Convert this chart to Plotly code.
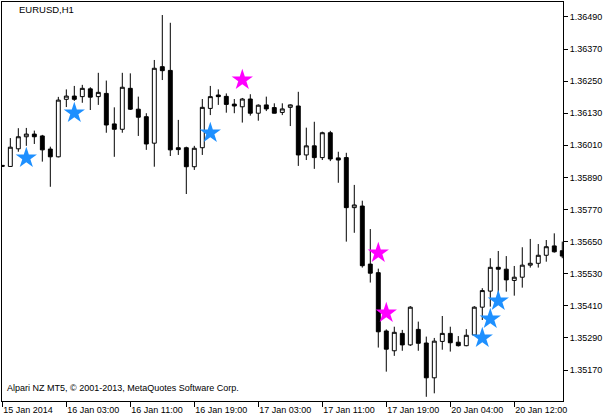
import plotly.graph_objects as go

# ---- data (EURUSD H1) ----
bar_index = list(range(71))
open_ = [1.35935, 1.35931, 1.35997, 1.36042, 1.36052, 1.36045, 1.35996, 1.35967, 1.36182, 1.36194,
         1.36192, 1.36221, 1.36192, 1.36204, 1.36090, 1.36070, 1.36223, 1.36145, 1.36117, 1.36018,
         1.36304, 1.36290, 1.36001, 1.36001, 1.35930, 1.36001, 1.36148, 1.36198, 1.36193, 1.36164,
         1.36154, 1.36183, 1.36130, 1.36161, 1.36151, 1.36133, 1.36152, 1.36157, 1.35974, 1.36008,
         1.35964, 1.36057, 1.35963, 1.35964, 1.35777, 1.35783, 1.35566, 1.35534, 1.35316, 1.35242,
         1.35307, 1.35264, 1.35322, 1.35271, 1.35141, 1.35277, 1.35307, 1.35274, 1.35261, 1.35301,
         1.35405, 1.35465, 1.35554, 1.35547, 1.35505, 1.35517, 1.35562, 1.35569, 1.35599, 1.35634,
         1.35616]
high = [1.35936, 1.36037, 1.36074, 1.36075, 1.36065, 1.36049, 1.36005, 1.36191, 1.36219, 1.36232,
        1.36236, 1.36227, 1.36281, 1.36252, 1.36152, 1.36281, 1.36279, 1.36192, 1.36130, 1.36329,
        1.36497, 1.36468, 1.36105, 1.36005, 1.36008, 1.36183, 1.36232, 1.36219, 1.36204, 1.36183,
        1.36187, 1.36201, 1.36163, 1.36192, 1.36167, 1.36167, 1.36163, 1.36210, 1.36076, 1.36098,
        1.36061, 1.36064, 1.35986, 1.35982, 1.35862, 1.35803, 1.35697, 1.35549, 1.35322, 1.35332,
        1.35320, 1.35409, 1.35351, 1.35295, 1.35290, 1.35372, 1.35332, 1.35297, 1.35323, 1.35409,
        1.35476, 1.35588, 1.35615, 1.35596, 1.35559, 1.35629, 1.35660, 1.35641, 1.35656, 1.35681,
        1.35650]
low = [1.35929, 1.35930, 1.35986, 1.36008, 1.36015, 1.35949, 1.35855, 1.35965, 1.36153, 1.36176,
       1.36169, 1.36142, 1.36161, 1.36057, 1.35967, 1.36057, 1.36142, 1.36045, 1.35993, 1.35930,
       1.36254, 1.35970, 1.35974, 1.35828, 1.35918, 1.35974, 1.36123, 1.36161, 1.36132, 1.36130,
       1.36095, 1.36121, 1.36102, 1.36138, 1.36129, 1.36123, 1.36082, 1.35933, 1.35955, 1.35922,
       1.35955, 1.35951, 1.35870, 1.35650, 1.35683, 1.35553, 1.35497, 1.35254, 1.35164, 1.35223,
       1.35242, 1.35260, 1.35242, 1.35070, 1.35083, 1.35246, 1.35239, 1.35258, 1.35259, 1.35300,
       1.35357, 1.35407, 1.35432, 1.35463, 1.35448, 1.35478, 1.35553, 1.35553, 1.35575, 1.35609,
       1.35588]
close = [1.35932, 1.36003, 1.36042, 1.36052, 1.36042, 1.35993, 1.35967, 1.36179, 1.36194, 1.36182,
         1.36223, 1.36190, 1.36208, 1.36086, 1.36070, 1.36227, 1.36145, 1.36115, 1.36015, 1.36298,
         1.36289, 1.35993, 1.35994, 1.35930, 1.35999, 1.36152, 1.36192, 1.36192, 1.36163, 1.36157,
         1.36183, 1.36130, 1.36160, 1.36146, 1.36130, 1.36146, 1.36161, 1.35974, 1.36008, 1.35964,
         1.36057, 1.35959, 1.35955, 1.35777, 1.35787, 1.35560, 1.35532, 1.35313, 1.35248, 1.35311,
         1.35264, 1.35405, 1.35270, 1.35141, 1.35278, 1.35307, 1.35272, 1.35261, 1.35300, 1.35405,
         1.35467, 1.35554, 1.35547, 1.35507, 1.35517, 1.35562, 1.35569, 1.35599, 1.35631, 1.35612,
         1.35596]

buy_x = [3, 9, 26, 60, 61, 62]
buy_y = [1.35963, 1.36131, 1.36056, 1.35290, 1.35361, 1.35428]
sell_x = [30, 47, 48]
sell_y = [1.36254, 1.35608, 1.35383]

x_tick_pos = [0, 8, 16, 24, 32, 40, 48, 56, 64]
x_tick_text = ["15 Jan 2014", "16 Jan 03:00", "16 Jan 11:00", "16 Jan 19:00", "17 Jan 03:00",
               "17 Jan 11:00", "17 Jan 19:00", "20 Jan 04:00", "20 Jan 12:00"]
y_tick_text = ["1.35170", "1.35290", "1.35410", "1.35530", "1.35650", "1.35770",
               "1.35890", "1.36010", "1.36130", "1.36250", "1.36370", "1.36490"]
y_tick_vals = [float(t) for t in y_tick_text]

FONT = "Liberation Sans, Arial, sans-serif"

fig = go.Figure()
fig.add_trace(go.Candlestick(
    x=bar_index, open=open_, high=high, low=low, close=close,
    increasing=dict(line=dict(color="black", width=1), fillcolor="white"),
    decreasing=dict(line=dict(color="black", width=1), fillcolor="black"),
    whiskerwidth=0, showlegend=False, hoverinfo="skip",
))
fig.add_trace(go.Scatter(
    x=buy_x, y=buy_y, mode="markers", showlegend=False,
    marker=dict(symbol="star", size=16, color="#1E90FF", line=dict(width=0)),
))
fig.add_trace(go.Scatter(
    x=sell_x, y=sell_y, mode="markers", showlegend=False,
    marker=dict(symbol="star", size=16, color="#FF00FF", line=dict(width=0)),
))

fig.update_layout(
    width=612, height=419, autosize=False,
    margin=dict(l=2, r=49, t=2, b=18, pad=0),
    paper_bgcolor="white", plot_bgcolor="white",
    font=dict(family=FONT, size=9, color="black"),
    boxgap=0.3,
    xaxis=dict(
        range=[-0.04, 70.09], rangeslider=dict(visible=False),
        automargin=False,
        showgrid=False, zeroline=False,
        showline=True, linecolor="black", linewidth=1, mirror=True,
        ticks="outside", ticklen=5, tickcolor="black", tickwidth=1,
        tickmode="array", tickvals=x_tick_pos, ticktext=x_tick_text,
        ticklabelposition="outside right",
        tickfont=dict(family=FONT, size=9, color="black"),
    ),
    yaxis=dict(
        range=[1.350543, 1.365457], side="right",
        automargin=False,
        showgrid=False, zeroline=False,
        showline=True, linecolor="black", linewidth=1, mirror=True,
        ticks="outside", ticklen=4, tickcolor="black", tickwidth=1,
        tickmode="array", tickvals=y_tick_vals, ticktext=y_tick_text,
        tickfont=dict(family=FONT, size=9, color="black"),
    ),
    annotations=[
        dict(text="EURUSD,H1", xref="paper", yref="paper", x=0.0267, y=0.981,
             xanchor="left", yanchor="middle", showarrow=False,
             font=dict(family=FONT, size=9.5, color="black")),
        dict(text="Alpari NZ MT5, © 2001-2013, MetaQuotes Software Corp.", xref="paper", yref="paper",
             x=0.0053, y=0.0326, xanchor="left", yanchor="middle", showarrow=False,
             font=dict(family=FONT, size=9, color="black")),
    ],
)

fig.write_html(
    "out.html",
    config={"displayModeBar": False},
    post_script="document.body.style.margin='0';document.body.style.padding='0';",
)
